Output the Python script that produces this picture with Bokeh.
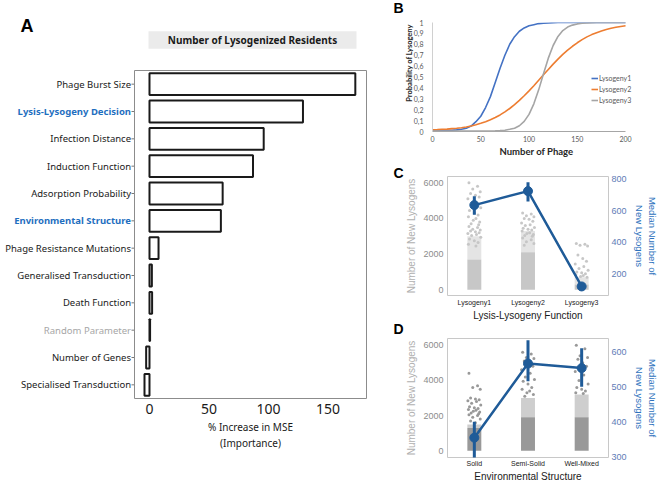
import math
from bokeh.plotting import figure
from bokeh.models import Range1d, FactorRange, LinearAxis, FixedTicker, CustomJSTickFormatter
from bokeh.embed import file_html
from bokeh.resources import INLINE
from bokeh.core.properties import value

# ---------------- Panel A data ----------------
a_factors = ["Phage Burst Size", "Lysis-Lysogeny Decision", "Infection Distance",
             "Induction Function", "Adsorption Probability", "Environmental Structure",
             "Phage Resistance Mutations", "Generalised Transduction", "Death Function",
             "Random Parameter", "Number of Genes", "Specialised Transduction"]
a_importance = [173, 129, 96, 87, 61.5, 60, 7.6, 2.0, 2.2, 0.5, -2.8, -4.2]
a_blue_labels = ["Lysis-Lysogeny Decision", "Environmental Structure"]
a_grey_labels = ["Random Parameter"]
a_xticks = [0, 50, 100, 150]
a_header = "Number of Lysogenized Residents"

# ---------------- Panel B data ----------------
b_phage = [0, 5, 10, 15, 20, 25, 30, 35, 40, 45, 50, 55, 60, 65, 70, 75, 80, 85, 90, 95, 100,
           105, 110, 115, 120, 125, 130, 135, 140, 145, 150, 155, 160, 165, 170, 175, 180,
           185, 190, 195, 200]
b_lysogeny1 = [0.01, 0.01, 0.01, 0.01, 0.012, 0.015, 0.02, 0.03, 0.05, 0.09, 0.14, 0.22, 0.32,
               0.45, 0.58, 0.70, 0.80, 0.87, 0.92, 0.95, 0.97, 0.98, 0.99, 0.993, 0.996, 0.998,
               1.0, 1.0, 1.0, 1.0, 1.0, 1.0, 1.0, 1.0, 1.0, 1.0, 1.0, 1.0, 1.0, 1.0, 1.0]
b_lysogeny2 = [0.015, 0.017, 0.02, 0.022, 0.026, 0.03, 0.035, 0.042, 0.051, 0.062, 0.075, 0.089,
               0.107, 0.128, 0.152, 0.18, 0.211, 0.246, 0.285, 0.328, 0.373, 0.42, 0.47, 0.52,
               0.569, 0.618, 0.664, 0.707, 0.746, 0.782, 0.814, 0.843, 0.868, 0.889, 0.907,
               0.923, 0.936, 0.947, 0.956, 0.964, 0.97]
b_lysogeny3 = [0.005, 0.005, 0.005, 0.005, 0.005, 0.005, 0.005, 0.005, 0.005, 0.005, 0.005, 0.005,
               0.005, 0.006, 0.008, 0.012, 0.02, 0.03, 0.053, 0.093, 0.157, 0.254, 0.382, 0.53,
               0.673, 0.789, 0.872, 0.926, 0.958, 0.976, 0.987, 0.993, 0.996, 0.998,
               1.0, 1.0, 1.0, 1.0, 1.0, 1.0, 1.0]
b_xticks = [0, 50, 100, 150, 200]
b_yticks = [0, 0.1, 0.2, 0.3, 0.4, 0.5, 0.6, 0.7, 0.8, 0.9, 1]

# ---------------- Panel C data ----------------
c_functions = ["Lysogeny1", "Lysogeny2", "Lysogeny3"]
c_median = [635, 723, 123]
c_median_low = [575, 658, 110]
c_median_high = [691, 779, 136]
c_dense_top = [1700, 2100, 300]
c_semi_top = [3000, 3300, 700]
c_points_lys1 = [6000, 5800, 5650, 5500, 5400, 5300, 5200, 5100, 4900, 4750, 4600, 4450, 4300,
                 4200, 4100, 4000, 3900, 3800, 3700, 3650, 3550, 3500, 3400, 3350, 3300, 3250,
                 3200, 3150, 3100, 3050, 2950, 2850, 2750, 2650, 2550, 2450]
c_points_lys2 = [4300, 4250, 4150, 4100, 4000, 3950, 3850, 3750, 3650, 3600, 3500, 3450, 3400,
                 3350, 3300, 3200, 3150, 3100, 3050, 3000, 2900, 2800, 2700, 2600, 2500]
c_points_lys3 = [2600, 2550, 2500, 2450, 1950, 1750, 1600, 1450, 1300, 1200, 1100, 1000, 950,
                 900, 850, 800, 750, 700]
c_left_ticks = [0, 2000, 4000, 6000]
c_right_ticks = [200, 400, 600, 800]

# ---------------- Panel D data ----------------
d_structures = ["Solid", "Semi-Solid", "Well-Mixed"]
d_median = [355, 568, 555]
d_median_low = [285, 517, 501]
d_median_high = [401, 635, 612]
d_dense_top = [1300, 1900, 1900]
d_semi_top = [1500, 3000, 3200]
d_points_solid = [4400, 3700, 3600, 3500, 3000, 2950, 2900, 2850, 2800, 2700, 2600, 2500, 2450,
                  2400, 2350, 2300, 2250, 2200, 2150, 2100, 2050, 2000, 1900, 1800, 1700, 1600]
d_points_semi = [5600, 5500, 5300, 5250, 5100, 4900, 4800, 4600, 4400, 4200, 4050, 3950, 3800,
                 3600, 3500, 3400, 3300, 3200, 3100]
d_points_well = [6000, 5800, 5400, 5300, 5200, 5000, 4800, 4500, 4300, 4000, 3800, 3600, 3500,
                 3400, 3300, 3250]
d_left_ticks = [0, 2000, 4000, 6000]
d_right_ticks = [300, 400, 500, 600]

# jitter pattern (horizontal spread of the strip points, in category widths)
JITTER = [-0.10, 0.06, -0.03, 0.11, -0.07, 0.02, 0.09, -0.12, 0.04, -0.05,
          0.12, -0.09, 0.0, 0.07, -0.11, 0.03, -0.02, 0.10, -0.06, 0.08]

SANS = "Noto Sans"
ARIAL = "Liberation Sans"
EXCEL = "Lato"
MEDIAN_BLUE = "#1f5b98"


def place(p, left, top):
    p.styles = {"position": "absolute", "left": f"{left}px", "top": f"{top}px"}


def clean(p):
    p.xgrid.visible = False
    p.ygrid.visible = False
    p.background_fill_color = "white"
    p.border_fill_color = "white"


def no_ticks(ax):
    ax.major_tick_out = 0
    ax.major_tick_in = 0
    ax.minor_tick_out = 0
    ax.minor_tick_in = 0


# ================= Panel A (labels part) =================
a_range = FactorRange(factors=list(reversed(a_factors)))
a_label_colors = ["#1f6fc0" if f in a_blue_labels else "#a6a6a6" if f in a_grey_labels
                  else "#1a1a1a" for f in a_factors]
a_label_styles = ["bold" if f in a_blue_labels else "normal" for f in a_factors]

pL = figure(width=134, height=410, x_range=Range1d(0, 134), y_range=a_range,
            x_axis_location=None, y_axis_location=None, output_backend="svg",
            toolbar_location=None, min_border_left=0, min_border_right=0,
            min_border_top=70, min_border_bottom=12)
clean(pL)
pL.title.visible = False
pL.outline_line_color = None
pL.text(x=130.5, y=a_factors, text=a_factors, text_color=a_label_colors,
        text_font_style=a_label_styles, text_font=value(SANS), text_font_size=value("9.5px"),
        text_align="right", text_baseline="middle")
pL.scatter(x=132.5, y=a_factors, marker="dash", size=3, line_color="#777777", line_width=1)
place(pL, 0, 0)

# ================= Panel A (bars) =================
pA = figure(width=256, height=484, x_range=Range1d(-12.6, 182.4), y_range=a_range,
            y_axis_location=None, output_backend="svg", toolbar_location=None,
            min_border_left=0, min_border_right=24, min_border_top=70, min_border_bottom=86)
clean(pA)
pA.title.visible = False
pA.outline_line_color = "#8c8c8c"
pA.outline_line_width = 1
pA.hbar(y=a_factors, left=0, right=a_importance, height=0.8, fill_color="white",
        line_color="#1a1a1a", line_width=2)
pA.xaxis.ticker = FixedTicker(ticks=a_xticks)
pA.xaxis.major_label_text_font = SANS
pA.xaxis.major_label_text_font_size = "14px"
pA.xaxis.major_label_text_color = "#1a1a1a"
no_ticks(pA.xaxis[0])
pA.xaxis.axis_line_color = None
pA.xaxis.major_label_standoff = 5
pA.xaxis.axis_label = "% Increase in MSE\n(Importance)"
pA.xaxis.axis_label_text_font = SANS
pA.xaxis.axis_label_text_font_size = "10px"
pA.xaxis.axis_label_text_font_style = "normal"
pA.xaxis.axis_label_text_color = "#1a1a1a"
pA.xaxis.axis_label_standoff = 3
place(pA, 134, 0)

# ================= Panel B =================
pB = figure(width=270, height=160, x_range=Range1d(0, 215.5), y_range=Range1d(0, 1),
            output_backend="svg", toolbar_location=None,
            min_border_left=42, min_border_right=20, min_border_top=22, min_border_bottom=29)
clean(pB)
pB.title.visible = False
pB.outline_line_color = None
pB.line(b_phage, b_lysogeny1, line_color="#4472c4", line_width=1.6, legend_label="Lysogeny1")
pB.line(b_phage, b_lysogeny2, line_color="#ed7d31", line_width=1.6, legend_label="Lysogeny2")
pB.line(b_phage, b_lysogeny3, line_color="#a5a5a5", line_width=1.6, legend_label="Lysogeny3")
pB.xaxis.ticker = FixedTicker(ticks=b_xticks)
pB.xaxis.bounds = (0, 200)
pB.yaxis.ticker = FixedTicker(ticks=b_yticks)
pB.yaxis.formatter = CustomJSTickFormatter(
    code="return (tick === 0 || tick === 1) ? tick.toFixed(0) : tick.toFixed(1).replace('.', ',');")
for ax in (pB.xaxis[0], pB.yaxis[0]):
    ax.major_label_text_font = EXCEL
    ax.major_label_text_font_size = "7px"
    ax.major_label_text_color = "#595959"
    no_ticks(ax)
    ax.axis_label_text_font = EXCEL
    ax.axis_label_text_font_style = "bold"
    ax.axis_label_text_color = "#262626"
pB.xaxis.axis_line_color = "#a6a6a6"
pB.yaxis.axis_line_color = "#d0d0d0"
pB.yaxis.major_label_standoff = 9
pB.xaxis.major_label_standoff = 4
pB.xaxis.axis_label = "Number of Phage"
pB.xaxis.axis_label_text_font_size = "9.5px"
pB.xaxis.axis_label_standoff = 1
pB.legend.location = (159, 26)
pB.legend.border_line_color = None
pB.legend.background_fill_alpha = 0
pB.legend.label_text_font = EXCEL
pB.legend.label_text_font_size = "7px"
pB.legend.label_text_color = "#595959"
pB.legend.glyph_width = 7
pB.legend.glyph_height = 10
pB.legend.label_height = 10
pB.legend.label_standoff = 1
pB.legend.spacing = 1
pB.legend.padding = 0
pB.legend.margin = 0
place(pB, 390, 0)


# ================= Panels C & D =================
def strip_panel(cats, median, low, high, dense_top, semi_top, points, yr, yr2, lticks, rticks,
                pt_color, xtitle, height, top, bottom, tick_standoff):
    p = figure(width=270, height=height, x_range=FactorRange(factors=cats),
               y_range=Range1d(*yr), output_backend="svg", toolbar_location=None,
               min_border_left=57, min_border_right=48, min_border_top=top,
               min_border_bottom=bottom)
    clean(p)
    p.title.visible = False
    p.outline_line_color = "#c8c8c8"
    p.outline_line_width = 1
    p.extra_y_ranges = {"median": Range1d(*yr2)}
    centers = [i + 0.5 for i in range(len(cats))]
    p.vbar(x=centers, bottom=0, top=dense_top, width=0.26, fill_color=pt_color,
           line_color=None, fill_alpha=0.95)
    p.vbar(x=centers, bottom=dense_top, top=semi_top, width=0.26, fill_color=pt_color,
           line_color=None, fill_alpha=0.45)
    xs, ys = [], []
    for c, vals in zip(centers, points):
        for i, v in enumerate(vals):
            xs.append(c + JITTER[i % len(JITTER)])
            ys.append(v)
    p.scatter(xs, ys, size=3, fill_color=pt_color, line_color=None, fill_alpha=0.95)
    p.segment(x0=centers, y0=low, x1=centers, y1=high, line_color=MEDIAN_BLUE, line_width=3,
              y_range_name="median")
    p.line(centers, median, line_color=MEDIAN_BLUE, line_width=2.5, y_range_name="median")
    p.scatter(centers, median, size=9, fill_color=MEDIAN_BLUE, line_color=MEDIAN_BLUE,
              y_range_name="median")
    raxis = LinearAxis(y_range_name="median", ticker=FixedTicker(ticks=rticks))
    p.add_layout(raxis, "right")
    p.yaxis[0].ticker = FixedTicker(ticks=lticks)
    for ax in (p.xaxis[0], p.yaxis[0], raxis):
        no_ticks(ax)
        ax.axis_line_color = None
        ax.major_label_text_font = ARIAL
        ax.axis_label_text_font = ARIAL
        ax.axis_label_text_font_style = "normal"
    p.xaxis.major_label_text_font_size = "7px"
    p.xaxis.major_label_text_color = "#1a1a1a"
    p.xaxis.major_label_standoff = tick_standoff
    p.xaxis.axis_label = xtitle
    p.xaxis.axis_label_text_font_size = "10px"
    p.xaxis.axis_label_text_color = "#1a1a1a"
    p.xaxis.axis_label_standoff = 1
    ly = p.yaxis[0]
    ly.major_label_text_font_size = "9px"
    ly.major_label_text_color = "#8c8c8c"
    ly.major_label_standoff = 4
    ly.axis_label = "Number of New Lysogens"
    ly.axis_label_text_font_size = "10px"
    ly.axis_label_text_color = "#b0b0b0"
    ly.axis_label_standoff = 3
    raxis.major_label_text_font_size = "9px"
    raxis.major_label_text_color = "#5e7cb6"
    raxis.major_label_standoff = 3
    raxis.axis_label = "Median Number of\nNew Lysogens"
    raxis.axis_label_text_font_size = "9.5px"
    raxis.axis_label_text_color = "#2e72bd"
    raxis.axis_label_standoff = 4
    return p


pC = strip_panel(c_functions, c_median, c_median_low, c_median_high, c_dense_top, c_semi_top,
                 [c_points_lys1, c_points_lys2, c_points_lys3], (-320, 6353), (66, 815),
                 c_left_ticks, c_right_ticks, "#c4c4c4", "Lysis-Lysogeny Function",
                 164, 16, 29, 3)
place(pC, 390, 160)
pD = strip_panel(d_structures, d_median, d_median_low, d_median_high, d_dense_top, d_semi_top,
                 [d_points_solid, d_points_semi, d_points_well], (-380, 6380), (298, 640),
                 d_left_ticks, d_right_ticks, "#939393", "Environmental Structure",
                 160, 14, 27, 2)
place(pD, 390, 324)

# ================= Transparent overlay for free-standing texts =================
pT = figure(width=660, height=484, x_range=Range1d(0, 660), y_range=Range1d(484, 0),
            x_axis_location=None, y_axis_location=None, output_backend="svg",
            toolbar_location=None, min_border=0)
pT.title.visible = False
pT.xgrid.visible = False
pT.ygrid.visible = False
pT.outline_line_color = None
pT.background_fill_alpha = 0
pT.border_fill_alpha = 0
# header of panel A (grey band with bold text)
pT.quad(left=[148], right=[356], top=[30.7], bottom=[48.3], fill_color="#ebebeb",
        line_color=None)
pT.text(x=[252], y=[39.5], text=[a_header], text_font=value(SANS), text_font_style="bold",
        text_font_size=value("10px"), text_color="#1a1a1a", text_align="center",
        text_baseline="middle")
# panel letters
pT.text(x=[20], y=[25], text=["A"], text_font=value(ARIAL), text_font_style="bold",
        text_font_size=value("18px"), text_color="#000000", text_align="left",
        text_baseline="alphabetic")
pT.text(x=[393, 393, 393], y=[7.5, 172, 328], text=["B", "C", "D"], text_font=value(ARIAL),
        text_font_style="bold", text_font_size=value("14px"), text_color="#000000",
        text_align="left", text_baseline="alphabetic")
# y title of panel B (sits above the frame centre, as in the original)
pT.text(x=[408.5], y=[62.5], text=["Probability of Lysogeny"], text_font=value(EXCEL),
        text_font_style="bold", text_font_size=value("7.5px"), text_color="#262626",
        text_align="center", text_baseline="middle", angle=math.pi / 2)
place(pT, 0, 0)

open("out.html", "w").write(file_html([pL, pA, pB, pC, pD, pT], INLINE))
